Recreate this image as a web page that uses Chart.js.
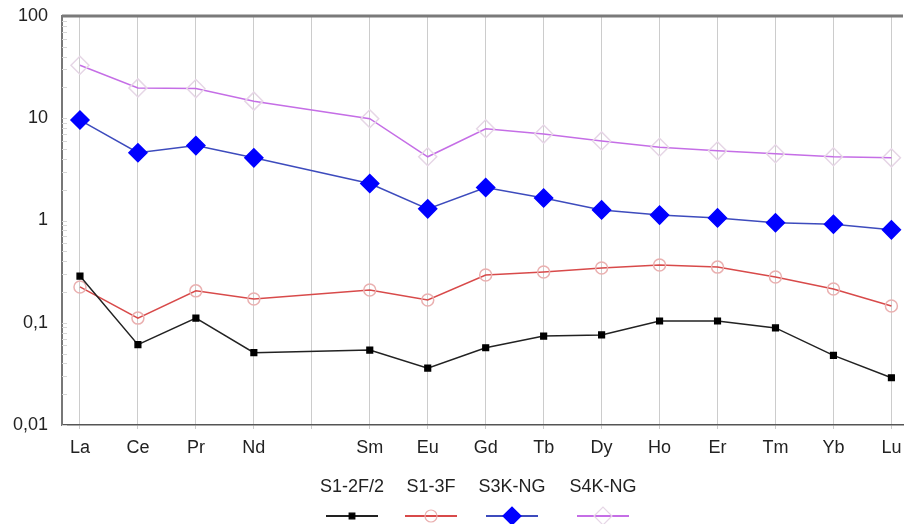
<html>
<head>
  <title>REE pattern</title>
  <style>
    body { margin: 0; background: #fff; }
    #wrap { width: 904px; height: 524px; }
  </style>
</head>
<body>
  <div id="wrap">
  <canvas id="myChart"></canvas>
</div>

<script src="https://cdn.jsdelivr.net/npm/chart.js"></script>

<script>
  // element labels, Pm slot left empty
  const elements = ['La', 'Ce', 'Pr', 'Nd', '', 'Sm', 'Eu', 'Gd', 'Tb', 'Dy', 'Ho', 'Er', 'Tm', 'Yb', 'Lu'];
  const xIndex = [0, 1, 2, 3, 5, 6, 7, 8, 9, 10, 11, 12, 13, 14];

  const s12f2 = [0.286, 0.061, 0.111, 0.051, 0.054, 0.036, 0.057, 0.074, 0.076, 0.104, 0.104, 0.089, 0.048, 0.029];
  const s13f = [0.224, 0.111, 0.205, 0.171, 0.209, 0.167, 0.293, 0.313, 0.343, 0.367, 0.35, 0.28, 0.214, 0.146];
  const s3kng = [9.6, 4.6, 5.4, 4.1, 2.3, 1.3, 2.1, 1.66, 1.27, 1.13, 1.06, 0.95, 0.92, 0.81];
  const s4kng = [33, 19.8, 19.5, 14.7, 9.9, 4.2, 7.9, 7.0, 6.0, 5.2, 4.8, 4.5, 4.2, 4.1];

  const yTicks = [0.01, 0.1, 1, 10, 100];
  const yTickText = ['0,01', '0,1', '1', '10', '100'];

  const pts = vals => vals.map((v, i) => ({x: xIndex[i], y: v}));

  const FONT = 'Liberation Sans, Arial, sans-serif';

  // legend drawn under the axis: name above, line+marker below
  const bottomLegend = {
    id: 'bottomLegend',
    afterDraw(chart) {
      const c = chart.ctx;
      const spots = [352, 431, 512, 603];
      c.save();
      c.font = '18px ' + FONT;
      c.textAlign = 'center';
      c.textBaseline = 'alphabetic';
      chart.data.datasets.forEach((ds, i) => {
        const cx = spots[i];
        c.fillStyle = '#222';
        c.fillText(ds.label, cx, 492);
        c.strokeStyle = ds.borderColor;
        c.lineWidth = 2;
        c.beginPath();
        c.moveTo(cx - 26, 516);
        c.lineTo(cx + 26, 516);
        c.stroke();
        c.fillStyle = ds.pointBackgroundColor;
        c.strokeStyle = ds.pointBorderColor;
        c.lineWidth = 1.2;
        Chart.helpers.drawPoint(c, {pointStyle: ds.pointStyle, radius: ds.pointRadius, borderWidth: 1.2}, cx, 516);
      });
      c.restore();
    }
  };

  // top frame line + small inner minor ticks on the log axis
  const frame = {
    id: 'frame',
    beforeDatasetsDraw(chart) {
      const c = chart.ctx;
      const a = chart.chartArea;
      const y = chart.scales.y;
      c.save();
      c.strokeStyle = '#d6d6d6';
      c.lineWidth = 1;
      for (let e = -2; e < 2; e++) {
        for (let m = 1; m <= 9; m++) {
          const py = Math.round(y.getPixelForValue(m * Math.pow(10, e))) + 0.5;
          c.beginPath();
          c.moveTo(a.left, py);
          c.lineTo(a.left + 5, py);
          c.stroke();
        }
      }
      c.strokeStyle = '#7a7a7a';
      c.lineWidth = 3;
      c.beginPath();
      c.moveTo(a.left, a.top);
      c.lineTo(a.right, a.top);
      c.stroke();
      c.restore();
    }
  };

  const ctx = document.getElementById('myChart');
  new Chart(ctx, {
    type: 'line',
    data: {
      datasets: [{
        label: 'S1-2F/2',
        data: pts(s12f2),
        borderColor: '#222222',
        borderWidth: 1.5,
        pointStyle: 'rect',
        pointRadius: 4,
        pointBackgroundColor: '#000000',
        pointBorderColor: '#000000',
        tension: 0
      }, {
        label: 'S1-3F',
        data: pts(s13f),
        borderColor: '#d84a4a',
        borderWidth: 1.5,
        pointStyle: 'circle',
        pointRadius: 6,
        pointBackgroundColor: 'rgba(0,0,0,0)',
        pointBorderColor: '#eab0b0',
        tension: 0
      }, {
        label: 'S3K-NG',
        data: pts(s3kng),
        borderColor: '#3d4bbd',
        borderWidth: 1.5,
        pointStyle: 'rectRot',
        pointRadius: 9,
        pointBackgroundColor: '#0000ff',
        pointBorderColor: '#0000ff',
        tension: 0
      }, {
        label: 'S4K-NG',
        data: pts(s4kng),
        borderColor: '#c56ee6',
        borderWidth: 1.5,
        pointStyle: 'rectRot',
        pointRadius: 9,
        pointBackgroundColor: 'rgba(0,0,0,0)',
        pointBorderColor: '#e6d6e6',
        tension: 0
      }]
    },
    options: {
      responsive: true,
      maintainAspectRatio: false,
      animation: false,
      layout: { autoPadding: false, padding: { top: 16, right: 1, left: 0, bottom: 0 } },
      plugins: {
        legend: { display: false },
        tooltip: { enabled: false }
      },
      scales: {
        x: {
          type: 'linear',
          min: -0.31,
          max: 14.2,
          afterBuildTicks: s => { s.ticks = elements.map((e, i) => ({value: i})); },
          afterFit: s => { s.height = 99; s.paddingLeft = 0; s.paddingRight = 0; },
          ticks: {
            autoSkip: false,
            maxRotation: 0,
            padding: 8,
            color: '#222',
            font: { family: FONT, size: 18 },
            callback: v => elements[v]
          },
          grid: { color: '#cccccc', lineWidth: 1, tickLength: 4 },
          border: { color: '#555', width: 1.5 }
        },
        y: {
          type: 'logarithmic',
          min: 0.01,
          max: 100,
          afterBuildTicks: s => { s.ticks = yTicks.map(v => ({value: v})); },
          afterFit: s => { s.width = 62; s.paddingTop = 0; s.paddingBottom = 0; },
          ticks: {
            padding: 14,
            color: '#222',
            font: { family: FONT, size: 18 },
            callback: v => yTickText[yTicks.indexOf(v)]
          },
          grid: { drawOnChartArea: false, drawTicks: false },
          border: { color: '#777', width: 2 }
        }
      }
    },
    plugins: [frame, bottomLegend]
  });
</script>

</body>
</html>
